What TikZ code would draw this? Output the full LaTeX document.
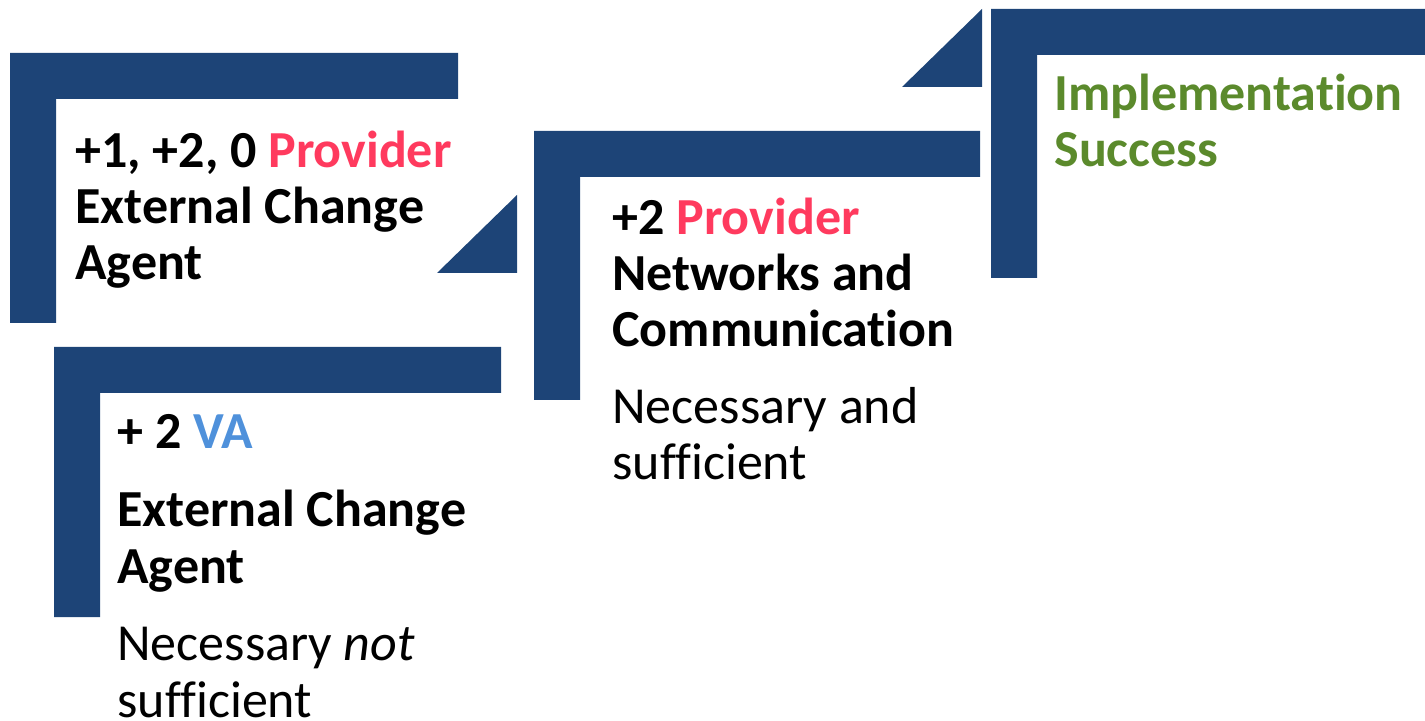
\documentclass[tikz,border=0pt]{standalone}
\usepackage{fontspec}
\setmainfont{Carlito}[Ligatures=NoCommon]
\definecolor{navy}{HTML}{1D4477}
\definecolor{prov}{HTML}{FF3A5E}
\definecolor{vablue}{HTML}{4F91DB}
\definecolor{okgreen}{HTML}{5B8A2C}
\begin{document}
\begin{tikzpicture}
          [x=0.5pt,y=-0.5pt,
           bar/.style={fill=navy},
           every node/.style={anchor=base west,inner sep=0pt,align=left,
             font=\fontsize{26}{28.2}\selectfont},
           head/.style={font=\fontsize{26}{28.2}\selectfont\bfseries}]
          \useasboundingbox (0,0) rectangle (1425,721);

          % steps
          \foreach \x/\y/\w/\h in {10/53/448/270,54/347/447/270,534/131/446/269,991/9/434/269}
            \fill[bar] (\x,\y) rectangle ++(\w,46) (\x,\y) rectangle ++(46,\h);

          % corner wedges
          \fill[bar] (437,273) -- (517,273) -- (517,195) -- cycle;
          \fill[bar] (902,87) -- (982,87) -- (982,9) -- cycle;

          % base = last line
          \node[head] (ext1) at (75,280) {+1, +2, 0 \textcolor{prov}{Provider}\\External Change\\Agent};

          \node[head] (va) at (117,449) {+ 2 \textcolor{vablue}{VA}};
          \node[head] (ext2) at (117,583) {External Change\\Agent};
          \node (nec1) at (117,717) {Necessary \emph{not}\\sufficient};

          \node[head] (net) at (612,347) {+2 \textcolor{prov}{Provider}\\Networks and\\Communication};
          \node (nec2) at (612,480) {Necessary and\\sufficient};

          \node[head,text=okgreen] (succ) at (1054,167) {Implementation\\Success};

        \end{tikzpicture}
\end{document}
